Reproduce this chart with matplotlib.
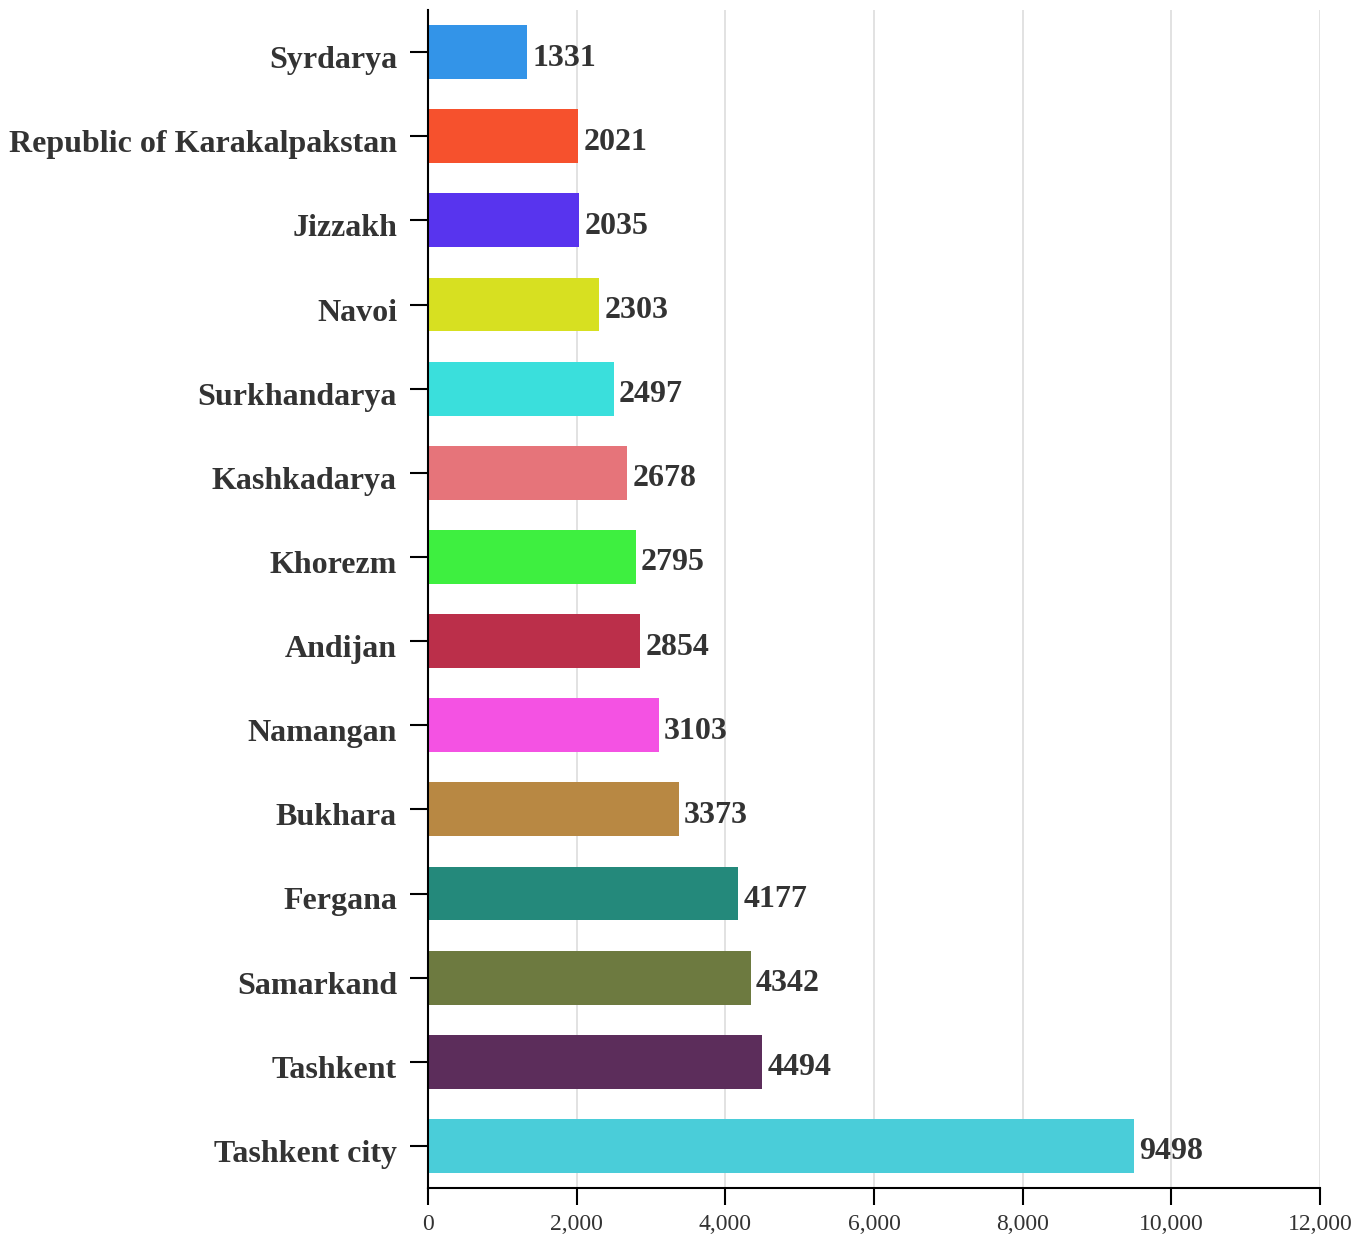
import matplotlib.pyplot as plt
import matplotlib.transforms as mtransforms
from matplotlib.ticker import FuncFormatter

# regions, top to bottom as shown in the chart
regions = ['Syrdarya', 'Republic of Karakalpakstan', 'Jizzakh', 'Navoi', 'Surkhandarya',
           'Kashkadarya', 'Khorezm', 'Andijan', 'Namangan', 'Bukhara', 'Fergana',
           'Samarkand', 'Tashkent', 'Tashkent city']
values = [1331, 2021, 2035, 2303, 2497, 2678, 2795, 2854, 3103, 3373, 4177, 4342, 4494, 9498]
colors = ['#3394E8', '#F6512D', '#5834EE', '#D7E021', '#3ADFDC', '#E6747A', '#3EEF40',
          '#BB2F4A', '#F452E3', '#B88843', '#24897B', '#6D7A40', '#5C2D5B', '#4ACDD9']
x_ticks = [0, 2000, 4000, 6000, 8000, 10000, 12000]

plt.rcParams['font.family'] = ['Liberation Serif', 'DejaVu Serif']

fig = plt.figure(figsize=(13.72, 12.36), dpi=100)
ax = fig.add_axes([428 / 1372, 1 - 1188 / 1236, (1320 - 428) / 1372, (1188 - 10) / 1236])

ypos = list(range(len(regions)))
ax.barh(ypos, values, height=0.64, color=colors, zorder=2)
ax.set_ylim(len(regions) - 0.5, -0.5)
ax.set_xlim(0, 12000)

for y, v in zip(ypos, values):
    ax.text(v + 70, y + 0.03, str(v), va='center_baseline', ha='left', fontsize=23,
            fontweight='bold', color='#333333')

# region labels drawn as text so they can sit a bit lower than the tick
ax.set_yticks(ypos)
ax.set_yticklabels([''] * len(regions))
lab_tr = ax.get_yaxis_transform() + mtransforms.ScaledTranslation(-0.31, -0.05, fig.dpi_scale_trans)
for y, name in zip(ypos, regions):
    ax.text(0, y, name, transform=lab_tr, ha='right', va='center_baseline',
            fontsize=23, fontweight='bold', color='#333333')

ax.set_xticks(x_ticks)
ax.xaxis.set_major_formatter(FuncFormatter(lambda x, p: f'{int(x):,}'))
ax.tick_params(axis='x', labelsize=17, labelcolor='#333333', length=12, width=1.5, pad=7)
ax.tick_params(axis='y', length=13, width=1.5)

ax.grid(axis='x', color='#dddddd', linewidth=1.2, zorder=0)
ax.set_axisbelow(True)
for s in ['top', 'right']:
    ax.spines[s].set_visible(False)
for s in ['left', 'bottom']:
    ax.spines[s].set_linewidth(1.5)

fig.savefig('out.png', dpi=100)
